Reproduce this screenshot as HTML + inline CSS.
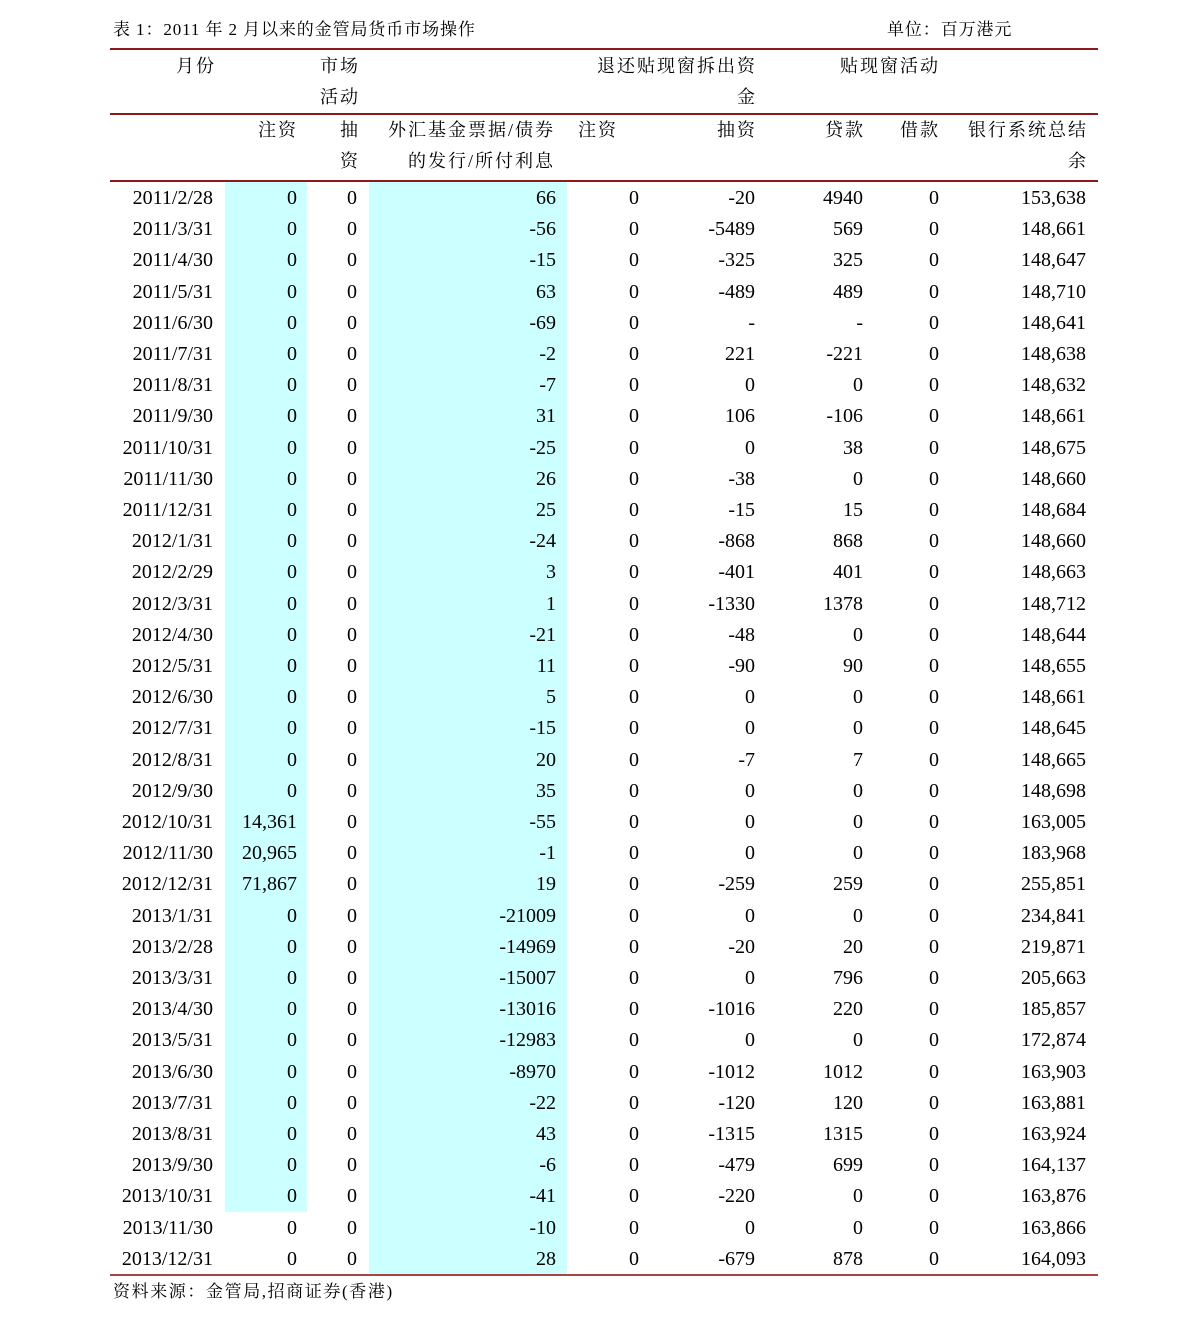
<!DOCTYPE html>
<html><head><meta charset="utf-8">
<style>
html,body{margin:0;padding:0;background:#fff;}
body{width:1191px;height:1321px;position:relative;overflow:hidden;font-family:"Liberation Serif","Noto Serif CJK SC",serif;color:#000;}
.t{position:absolute;font-size:17px;letter-spacing:0.9px;line-height:20px;white-space:nowrap;}
.rule{position:absolute;left:110px;width:988px;height:2px;background:#8b1a1a;}
.hl{position:absolute;background:#ccffff;}
.h{position:absolute;font-size:18px;letter-spacing:2px;line-height:31px;white-space:nowrap;}
.r{position:absolute;left:0;width:1191px;height:31.2px;line-height:31.2px;font-size:20px;}
.r span{position:absolute;top:0;white-space:nowrap;}
.r span:nth-child(1){right:978px;}
.r span:nth-child(2){right:894px;}
.r span:nth-child(3){right:834px;}
.r span:nth-child(4){right:635px;}
.r span:nth-child(5){right:552px;}
.r span:nth-child(6){right:436px;}
.r span:nth-child(7){right:328px;}
.r span:nth-child(8){right:252px;}
.r span:nth-child(9){right:105px;}
</style></head>
<body>
<div class="t" style="left:113px;top:20px;">表 1：2011 年 2 月以来的金管局货币市场操作</div>
<div class="t" style="left:887px;top:20px;">单位：百万港元</div>

<div class="hl" style="left:225px;top:182px;width:82px;height:1030px;"></div>
<div class="hl" style="left:369px;top:182px;width:198px;height:1092px;"></div>

<div class="rule" style="top:48px;"></div>
<div class="rule" style="top:113px;"></div>
<div class="rule" style="top:180px;"></div>
<div class="rule" style="top:1274px;background:#a84444;"></div>

<div class="h" style="left:176px;top:51px;">月份</div>
<div class="h" style="left:320px;top:51px;">市场</div>
<div class="h" style="left:320px;top:82px;">活动</div>
<div class="h" style="left:597px;top:51px;">退还贴现窗拆出资</div>
<div class="h" style="left:737px;top:82px;">金</div>
<div class="h" style="left:840px;top:51px;">贴现窗活动</div>

<div class="h" style="left:258px;top:115px;">注资</div>
<div class="h" style="left:340px;top:115px;">抽</div>
<div class="h" style="left:340px;top:146px;">资</div>
<div class="h" style="left:388px;top:115px;">外汇基金票据/债券</div>
<div class="h" style="left:408px;top:146px;">的发行/所付利息</div>
<div class="h" style="left:578px;top:115px;">注资</div>
<div class="h" style="left:717px;top:115px;">抽资</div>
<div class="h" style="left:825px;top:115px;">贷款</div>
<div class="h" style="left:900px;top:115px;">借款</div>
<div class="h" style="left:968px;top:115px;">银行系统总结</div>
<div class="h" style="left:1068px;top:146px;">余</div>

<div class="r" style="top:183px"><span>2011/2/28</span><span>0</span><span>0</span><span>66</span><span>0</span><span>-20</span><span>4940</span><span>0</span><span>153,638</span></div>
<div class="r" style="top:214.2px"><span>2011/3/31</span><span>0</span><span>0</span><span>-56</span><span>0</span><span>-5489</span><span>569</span><span>0</span><span>148,661</span></div>
<div class="r" style="top:245.4px"><span>2011/4/30</span><span>0</span><span>0</span><span>-15</span><span>0</span><span>-325</span><span>325</span><span>0</span><span>148,647</span></div>
<div class="r" style="top:276.6px"><span>2011/5/31</span><span>0</span><span>0</span><span>63</span><span>0</span><span>-489</span><span>489</span><span>0</span><span>148,710</span></div>
<div class="r" style="top:307.8px"><span>2011/6/30</span><span>0</span><span>0</span><span>-69</span><span>0</span><span>-</span><span>-</span><span>0</span><span>148,641</span></div>
<div class="r" style="top:339px"><span>2011/7/31</span><span>0</span><span>0</span><span>-2</span><span>0</span><span>221</span><span>-221</span><span>0</span><span>148,638</span></div>
<div class="r" style="top:370.2px"><span>2011/8/31</span><span>0</span><span>0</span><span>-7</span><span>0</span><span>0</span><span>0</span><span>0</span><span>148,632</span></div>
<div class="r" style="top:401.4px"><span>2011/9/30</span><span>0</span><span>0</span><span>31</span><span>0</span><span>106</span><span>-106</span><span>0</span><span>148,661</span></div>
<div class="r" style="top:432.6px"><span>2011/10/31</span><span>0</span><span>0</span><span>-25</span><span>0</span><span>0</span><span>38</span><span>0</span><span>148,675</span></div>
<div class="r" style="top:463.8px"><span>2011/11/30</span><span>0</span><span>0</span><span>26</span><span>0</span><span>-38</span><span>0</span><span>0</span><span>148,660</span></div>
<div class="r" style="top:495px"><span>2011/12/31</span><span>0</span><span>0</span><span>25</span><span>0</span><span>-15</span><span>15</span><span>0</span><span>148,684</span></div>
<div class="r" style="top:526.2px"><span>2012/1/31</span><span>0</span><span>0</span><span>-24</span><span>0</span><span>-868</span><span>868</span><span>0</span><span>148,660</span></div>
<div class="r" style="top:557.4px"><span>2012/2/29</span><span>0</span><span>0</span><span>3</span><span>0</span><span>-401</span><span>401</span><span>0</span><span>148,663</span></div>
<div class="r" style="top:588.6px"><span>2012/3/31</span><span>0</span><span>0</span><span>1</span><span>0</span><span>-1330</span><span>1378</span><span>0</span><span>148,712</span></div>
<div class="r" style="top:619.8px"><span>2012/4/30</span><span>0</span><span>0</span><span>-21</span><span>0</span><span>-48</span><span>0</span><span>0</span><span>148,644</span></div>
<div class="r" style="top:651px"><span>2012/5/31</span><span>0</span><span>0</span><span>11</span><span>0</span><span>-90</span><span>90</span><span>0</span><span>148,655</span></div>
<div class="r" style="top:682.2px"><span>2012/6/30</span><span>0</span><span>0</span><span>5</span><span>0</span><span>0</span><span>0</span><span>0</span><span>148,661</span></div>
<div class="r" style="top:713.4px"><span>2012/7/31</span><span>0</span><span>0</span><span>-15</span><span>0</span><span>0</span><span>0</span><span>0</span><span>148,645</span></div>
<div class="r" style="top:744.6px"><span>2012/8/31</span><span>0</span><span>0</span><span>20</span><span>0</span><span>-7</span><span>7</span><span>0</span><span>148,665</span></div>
<div class="r" style="top:775.8px"><span>2012/9/30</span><span>0</span><span>0</span><span>35</span><span>0</span><span>0</span><span>0</span><span>0</span><span>148,698</span></div>
<div class="r" style="top:807px"><span>2012/10/31</span><span>14,361</span><span>0</span><span>-55</span><span>0</span><span>0</span><span>0</span><span>0</span><span>163,005</span></div>
<div class="r" style="top:838.2px"><span>2012/11/30</span><span>20,965</span><span>0</span><span>-1</span><span>0</span><span>0</span><span>0</span><span>0</span><span>183,968</span></div>
<div class="r" style="top:869.4px"><span>2012/12/31</span><span>71,867</span><span>0</span><span>19</span><span>0</span><span>-259</span><span>259</span><span>0</span><span>255,851</span></div>
<div class="r" style="top:900.6px"><span>2013/1/31</span><span>0</span><span>0</span><span>-21009</span><span>0</span><span>0</span><span>0</span><span>0</span><span>234,841</span></div>
<div class="r" style="top:931.8px"><span>2013/2/28</span><span>0</span><span>0</span><span>-14969</span><span>0</span><span>-20</span><span>20</span><span>0</span><span>219,871</span></div>
<div class="r" style="top:963px"><span>2013/3/31</span><span>0</span><span>0</span><span>-15007</span><span>0</span><span>0</span><span>796</span><span>0</span><span>205,663</span></div>
<div class="r" style="top:994.2px"><span>2013/4/30</span><span>0</span><span>0</span><span>-13016</span><span>0</span><span>-1016</span><span>220</span><span>0</span><span>185,857</span></div>
<div class="r" style="top:1025.4px"><span>2013/5/31</span><span>0</span><span>0</span><span>-12983</span><span>0</span><span>0</span><span>0</span><span>0</span><span>172,874</span></div>
<div class="r" style="top:1056.6px"><span>2013/6/30</span><span>0</span><span>0</span><span>-8970</span><span>0</span><span>-1012</span><span>1012</span><span>0</span><span>163,903</span></div>
<div class="r" style="top:1087.8px"><span>2013/7/31</span><span>0</span><span>0</span><span>-22</span><span>0</span><span>-120</span><span>120</span><span>0</span><span>163,881</span></div>
<div class="r" style="top:1119px"><span>2013/8/31</span><span>0</span><span>0</span><span>43</span><span>0</span><span>-1315</span><span>1315</span><span>0</span><span>163,924</span></div>
<div class="r" style="top:1150.2px"><span>2013/9/30</span><span>0</span><span>0</span><span>-6</span><span>0</span><span>-479</span><span>699</span><span>0</span><span>164,137</span></div>
<div class="r" style="top:1181.4px"><span>2013/10/31</span><span>0</span><span>0</span><span>-41</span><span>0</span><span>-220</span><span>0</span><span>0</span><span>163,876</span></div>
<div class="r" style="top:1212.6px"><span>2013/11/30</span><span>0</span><span>0</span><span>-10</span><span>0</span><span>0</span><span>0</span><span>0</span><span>163,866</span></div>
<div class="r" style="top:1243.8px"><span>2013/12/31</span><span>0</span><span>0</span><span>28</span><span>0</span><span>-679</span><span>878</span><span>0</span><span>164,093</span></div>

<div class="t" style="left:113px;top:1282px;letter-spacing:1.6px;">资料来源：金管局,招商证券(香港)</div>
</body></html>
